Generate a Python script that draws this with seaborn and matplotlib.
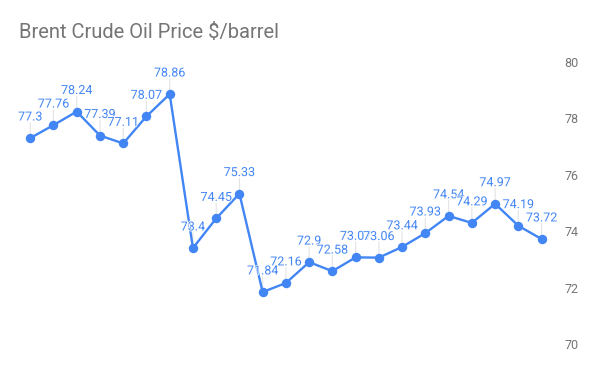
import matplotlib
matplotlib.use("Agg")
import matplotlib.pyplot as plt
import matplotlib.patheffects as pe
import seaborn as sns
import pandas as pd

values = [77.3, 77.76, 78.24, 77.39, 77.11, 78.07, 78.86, 73.4, 74.45, 75.33,
          71.84, 72.16, 72.9, 72.58, 73.07, 73.06, 73.44, 73.93, 74.54, 74.29,
          74.97, 74.19, 73.72]
labels = ["77.3", "77.76", "78.24", "77.39", "77.11", "78.07", "78.86", "73.4", "74.45", "75.33",
          "71.84", "72.16", "72.9", "72.58", "73.07", "73.06", "73.44", "73.93", "74.54", "74.29",
          "74.97", "74.19", "73.72"]
y_ticks = [70, 72, 74, 76, 78, 80]
title = "Brent Crude Oil Price $/barrel"

df = pd.DataFrame({"idx": range(len(values)), "price": values})

sns.set_theme(style="white")
plt.rcParams["font.family"] = ["Roboto", "DejaVu Sans"]

blue = "#4285F4"
fig = plt.figure(figsize=(6, 3.71), dpi=100)
ax = fig.add_axes([0.031, 0.073, 0.891, 0.76])

sns.lineplot(data=df, x="idx", y="price", ax=ax, color=blue, linewidth=1.7,
             marker="o", markersize=6.8, markeredgewidth=0, zorder=3)

for i, (v, lab) in enumerate(zip(values, labels)):
    # leader line
    ax.annotate("", xy=(i, v), xytext=(0, 11), textcoords="offset points",
                arrowprops=dict(arrowstyle="-", color="#e3e3e3", lw=0.8,
                                shrinkA=0, shrinkB=0), zorder=1)
    ax.annotate(lab, xy=(i, v), xytext=(0, 10.5), textcoords="offset points",
                ha="center", va="bottom", fontsize=9, color=blue, zorder=5,
                path_effects=[pe.withStroke(linewidth=1.2, foreground="white")])

ax.set_xlim(-0.5, len(values) - 0.5)
ax.set_ylim(70, 80)
ax.set_yticks(y_ticks)
ax.set_yticklabels([str(t) for t in y_ticks])
ax.yaxis.tick_right()
ax.tick_params(axis="y", length=0, pad=8, labelsize=9, labelcolor="#757575")
ax.set_xticks([])
ax.set_xlabel("")
ax.set_ylabel("")
for s in ax.spines.values():
    s.set_visible(False)
ax.grid(False)

fig.text(0.032, 0.912, title, fontsize=14.5, color="#757575", ha="left", va="center")

fig.savefig("out.png", dpi=100)
